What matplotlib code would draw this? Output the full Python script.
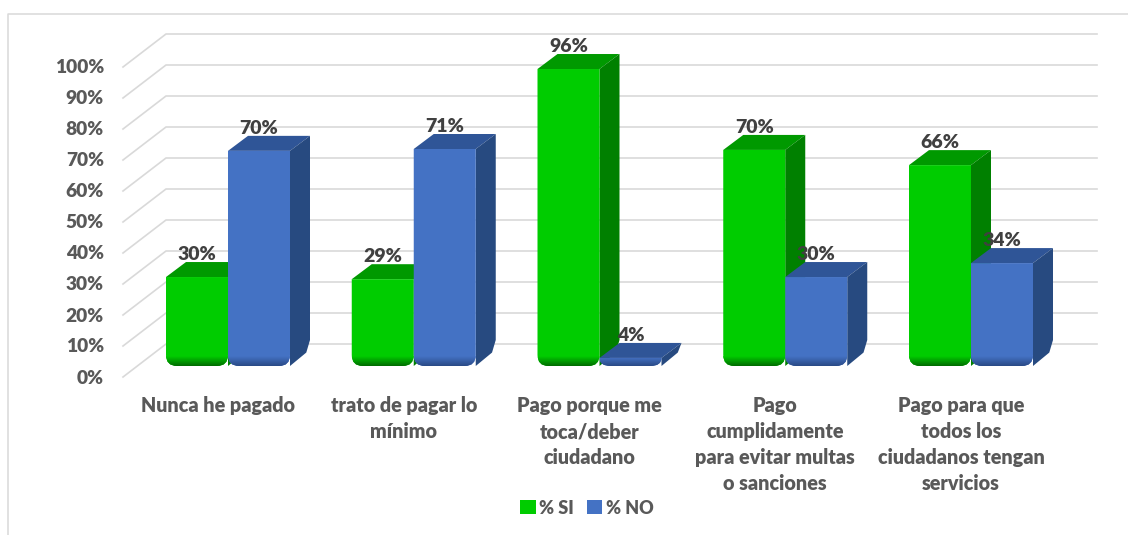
"""Encuesta de pago: grouped 3D-look bars for % SI and % NO."""

import matplotlib

matplotlib.use("Agg")
import matplotlib.pyplot as plt
import numpy as np
from matplotlib.patches import Patch, PathPatch, Polygon
from matplotlib.path import Path

CATEGORIES = [
    "Nunca he pagado",
    "trato de pagar lo\nmínimo",
    "Pago porque me\ntoca/deber\nciudadano",
    "Pago\ncumplidamente\npara evitar multas\no sanciones",
    "Pago para que\ntodos los\nciudadanos tengan\nservicios",
]
# heights, printed labels kept apart
SI_VALUES = [28.7, 28.0, 95.8, 69.7, 64.8]
NO_VALUES = [69.4, 70.0, 2.6, 28.7, 33.2]
SI_LABELS = ["30%", "29%", "96%", "70%", "66%"]
NO_LABELS = ["70%", "71%", "4%", "30%", "34%"]
Y_TICKS = [0, 10, 20, 30, 40, 50, 60, 70, 80, 90, 100]

GREEN = ("#00cc00", "#009900", "#008000", "#006b00")
BLUE = ("#4472c4", "#2f5597", "#274a80", "#2a4a86")
GRID = "#d9d9d9"
FONT = "Lato"
WEIGHT = "heavy"

WIDTH, HEIGHT = 1128, 535
X_UNIT = 185.75  # pixels per category
Y_UNIT = 3.1  # pixels per percent
X0, Y0 = 228, 366  # pixel of category 0 at 0 %
BAR_W = 62 / X_UNIT
DX, DY = 20 / X_UNIT, 15 / Y_UNIT
RADIUS = 11


def px(x, y):
    return (x - X0) / X_UNIT, (Y0 - y) / Y_UNIT


def rounded_path(x0, x1, top):
    r_x = RADIUS / X_UNIT
    r_y = min(RADIUS / Y_UNIT, top)
    verts = [
        (x0, top), (x0, r_y), (x0, 0), (x0 + r_x, 0),
        (x1 - r_x, 0), (x1, 0), (x1, r_y), (x1, top), (x0, top),
    ]
    codes = [
        Path.MOVETO, Path.LINETO, Path.CURVE3, Path.CURVE3,
        Path.LINETO, Path.CURVE3, Path.CURVE3, Path.LINETO, Path.CLOSEPOLY,
    ]
    return Path(verts, codes)


def draw_bar(ax, x0, value, colors, label):
    x1 = x0 + BAR_W
    ax.add_patch(Polygon(
        [(x0, value), (x1, value), (x1 + DX, value + DY), (x0 + DX, value + DY)],
        facecolor=colors[1], edgecolor="none", zorder=3,
    ))
    r_y = min(RADIUS / Y_UNIT, value)
    ax.add_patch(Polygon(
        [(x1, value), (x1 + DX, value + DY), (x1 + DX, DY + r_y),
         (x1 + DX - 0.02, DY - 0.5), (x1, 0)],
        facecolor=colors[2], edgecolor="none", zorder=3,
    ))
    face = PathPatch(rounded_path(x0, x1, value), facecolor=colors[0],
                     edgecolor="none", zorder=4)
    ax.add_patch(face)

    # darker fade along the foot of the front face
    rgb_top = np.array(matplotlib.colors.to_rgb(colors[0]))
    rgb_low = np.array(matplotlib.colors.to_rgb(colors[3]))
    steps = np.linspace(0, 1, 24)[:, None]
    ramp = (rgb_low + (rgb_top - rgb_low) * steps)[::-1, None, :]
    fade_h = min(10 / Y_UNIT, value)
    image = ax.imshow(ramp, extent=(x0, x1, 0, fade_h), origin="upper",
                      aspect="auto", zorder=5, interpolation="bilinear")
    image.set_clip_path(face)

    ax.text(x0 + BAR_W / 2, value + DY + 7.5 / Y_UNIT, label, ha="center",
            va="center", fontsize=14, fontweight=WEIGHT, color="#404040",
            family=FONT, zorder=8)


def main():
    fig = plt.figure(figsize=(WIDTH / 100, HEIGHT / 100), dpi=100)
    ax = fig.add_axes([0, 0, 1, 1])
    ax.set_axis_off()

    # chart frame, open on the right and at the foot
    ax.plot(*zip(px(8, 535), px(8, 14), px(1128, 14)),
            color=GRID, lw=1.1, zorder=1)

    # floor-to-wall gridlines
    for tick in Y_TICKS:
        front_y = 377 - tick * Y_UNIT
        back_y = front_y - 33
        ax.plot(*zip(px(123, front_y), px(166, back_y), px(1097, back_y)),
                color=GRID, lw=1.2, zorder=2)
        ax.text(*px(104, front_y + 1), f"{tick}%", ha="right", va="center",
                fontsize=13.8, fontweight=WEIGHT, color="#595959", family=FONT)

    for i, category in enumerate(CATEGORIES):
        draw_bar(ax, i - BAR_W, SI_VALUES[i], GREEN, SI_LABELS[i])
        draw_bar(ax, i, NO_VALUES[i], BLUE, NO_LABELS[i])
        x_text = i - 10 / X_UNIT
        ax.text(x_text, px(0, 396)[1], category, ha="center", va="top",
                fontsize=14.2, fontweight=WEIGHT, color="#595959", family=FONT,
                linespacing=1.44)

    handles = [Patch(facecolor=GREEN[0], label="% SI"),
               Patch(facecolor=BLUE[0], label="% NO")]
    ax.legend(
        handles=handles, ncol=2, frameon=False, loc="center",
        bbox_to_anchor=(587 / WIDTH, 1 - 508 / HEIGHT),
        prop={"family": FONT, "weight": WEIGHT, "size": 13},
        labelcolor="#595959", handlelength=0.85, handleheight=0.85,
        handletextpad=0.2, columnspacing=0.7,
    )

    ax.set_xlim(px(0, 0)[0], px(WIDTH, 0)[0])
    ax.set_ylim(px(0, HEIGHT)[1], px(0, 0)[1])
    fig.savefig("out.png", dpi=100, facecolor="white")
    plt.close(fig)


if __name__ == "__main__":
    main()
